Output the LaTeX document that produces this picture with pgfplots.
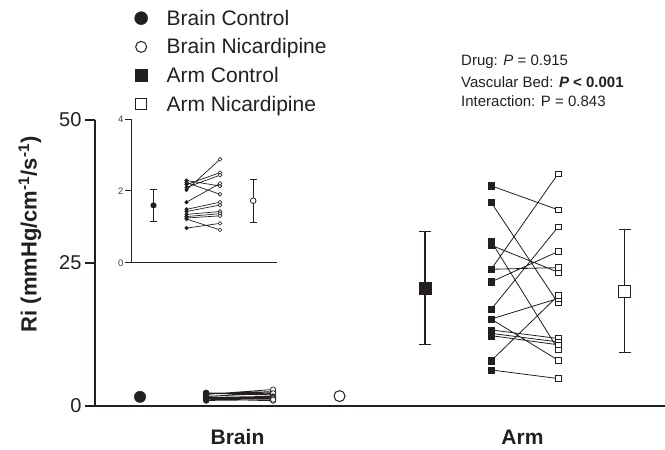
\documentclass[border=0pt]{standalone}
\usepackage{pgfplots}
\pgfplotsset{compat=1.18}
\usepackage{pgfplotstable}
\usepackage{fontspec}
\setmainfont{Liberation Sans}
\definecolor{ink}{RGB}{35,31,32}

\pgfplotstableread{
x y
0.39 2.29
0.625 2.14
nan nan
0.39 2.23
0.625 1.91
nan nan
0.39 2.18
0.625 2.51
nan nan
0.39 2.10
0.625 2.44
nan nan
0.39 2.03
0.625 2.88
nan nan
0.39 1.69
0.625 2.21
nan nan
0.39 1.49
0.625 1.69
nan nan
0.39 1.43
0.625 1.61
nan nan
0.39 1.35
0.625 1.43
nan nan
0.39 1.29
0.625 1.37
nan nan
0.39 1.25
0.625 1.31
nan nan
0.39 1.22
0.625 0.92
nan nan
0.39 0.97
0.625 1.10
}\brainpairs

\pgfplotstableread{
x y
1.39 38.5
1.625 34.3
nan nan
1.39 35.6
1.625 18.0
nan nan
1.39 28.8
1.625 9.9
nan nan
1.39 28.1
1.625 23.4
nan nan
1.39 23.9
1.625 40.6
nan nan
1.39 23.9
1.625 24.2
nan nan
1.39 21.7
1.625 27.0
nan nan
1.39 16.9
1.625 31.3
nan nan
1.39 15.2
1.625 18.8
nan nan
1.39 15.2
1.625 8.0
nan nan
1.39 13.3
1.625 11.8
nan nan
1.39 12.7
1.625 11.2
nan nan
1.39 12.3
1.625 10.7
nan nan
1.39 7.9
1.625 19.3
nan nan
1.39 6.3
1.625 4.8
}\armpairs

\begin{document}
\begin{tikzpicture}[x=1pt,y=1pt]
\useasboundingbox (0,0) rectangle (665,450);
\begin{axis}[
  at={(95pt,44pt)}, anchor=south west,
  scale only axis, width=570pt, height=286pt,
  xmin=0, xmax=2, ymin=0, ymax=50,
  axis lines=left,
  axis line style={-, line width=2pt, ink},
  clip=false,
  unbounded coords=jump,
  ytick={0,25,50},
  xtick={0.5,1.5}, xticklabels={Brain,Arm},
  /pgf/number format/assume math mode=true,
  yticklabel style={font=\fontsize{20}{24}\selectfont, text=ink},
  xticklabel style={font=\bfseries\fontsize{21}{25}\selectfont, text=ink, anchor=base, yshift=-29pt},
  tick align=outside,
  ytick style={line width=2pt, ink},
  xtick style={draw=none},
  major tick length=10pt,
  ylabel={Ri (mmHg/cm\textsuperscript{-1}/s\textsuperscript{-1})},
  ylabel style={font=\bfseries\fontsize{22}{26}\selectfont, at={(axis description cs:-0.114,0.60)}, anchor=center, text=ink},
  legend style={draw=none, fill=none, at={(axis description cs:0.064,1.40)}, anchor=north west,
    font=\fontsize{21}{25}\selectfont, text=ink, row sep=8pt,
    /tikz/every odd column/.append style={column sep=17pt}},
  legend cell align=left,
  legend image code/.code={\draw[#1] plot coordinates {(0pt,0pt)};},
]
\addlegendimage{only marks, mark=*, mark size=6.5pt, ink}
\addlegendentry{Brain Control}
\addlegendimage{only marks, mark=o, mark size=5.5pt, ink, line width=1pt}
\addlegendentry{Brain Nicardipine}
\addlegendimage{only marks, mark=square*, mark size=6pt, ink}
\addlegendentry{Arm Control}
\addlegendimage{only marks, mark=square, mark size=5.5pt, ink, line width=1pt}
\addlegendentry{Arm Nicardipine}

% paired lines
\addplot[forget plot, ink, line width=0.8pt] table {\brainpairs};
\addplot[forget plot, ink, line width=0.8pt] table {\armpairs};
% paired marks
\addplot[forget plot, only marks, mark=*, mark size=3pt, ink, restrict x to domain=0.3:0.5] table {\brainpairs};
\addplot[forget plot, only marks, mark=*, mark size=2.6pt, ink, mark options={fill=white, line width=0.7pt}, restrict x to domain=0.5:0.7] table {\brainpairs};
\addplot[forget plot, only marks, mark=square*, mark size=3.2pt, ink, restrict x to domain=1.3:1.5] table {\armpairs};
\addplot[forget plot, only marks, mark=square*, mark size=2.8pt, ink, mark options={fill=white, line width=0.8pt}, restrict x to domain=1.5:1.7] table {\armpairs};
% error bars of arm means
\addplot[forget plot, only marks, mark=none, error bars/.cd, y dir=both, y explicit,
  error bar style={ink, line width=1.2pt}, error mark options={rotate=90, ink, mark size=6pt, line width=1.2pt}]
  coordinates {(1.158,20.6) +- (0,9.85) (1.858,20.1) +- (0,10.7)};
% means
\addplot[forget plot, only marks, mark=*, mark size=5.7pt, ink] coordinates {(0.158,1.60)};
\addplot[forget plot, only marks, mark=*, mark size=5.5pt, ink, mark options={fill=white, line width=1pt}] coordinates {(0.858,1.73)};
\addplot[forget plot, only marks, mark=square*, mark size=6pt, ink] coordinates {(1.158,20.6)};
\addplot[forget plot, only marks, mark=square*, mark size=6pt, ink, mark options={fill=white, line width=1pt}] coordinates {(1.858,20.1)};
\end{axis}

% inset
\begin{axis}[
  at={(131pt,187pt)}, anchor=south west,
  scale only axis, width=146pt, height=144pt,
  xmin=0, xmax=1.025, ymin=0, ymax=4,
  axis lines=left,
  axis line style={-, line width=1pt, ink},
  clip=false,
  unbounded coords=jump,
  ytick={0,2,4}, xtick=\empty,
  tick align=outside, major tick length=6pt,
  ytick style={line width=1pt, ink},
  /pgf/number format/assume math mode=true,
  yticklabel style={font=\fontsize{9.5}{11}\selectfont, text=ink!85, inner sep=1.5pt},
]
\addplot[ink, line width=0.7pt] table {\brainpairs};
\addplot[only marks, mark=*, mark size=1.9pt, ink, restrict x to domain=0.3:0.5] table {\brainpairs};
\addplot[only marks, mark=*, mark size=1.9pt, ink, mark options={fill=white, line width=0.6pt}, restrict x to domain=0.5:0.7] table {\brainpairs};
\addplot[only marks, mark=none, error bars/.cd, y dir=both, y explicit,
  error bar style={ink, line width=0.9pt}, error mark options={rotate=90, ink, mark size=3.5pt, line width=0.9pt}]
  coordinates {(0.158,1.60) +- (0,0.44) (0.858,1.73) +- (0,0.60)};
\addplot[only marks, mark=*, mark size=2.8pt, ink] coordinates {(0.158,1.60)};
\addplot[only marks, mark=*, mark size=2.8pt, ink, mark options={fill=white, line width=0.8pt}] coordinates {(0.858,1.73)};
\end{axis}

\begin{scope}[every node/.style={anchor=west, inner sep=0pt, font=\fontsize{15}{18}\selectfont, text=ink}]
\node at (461,388) {Drug: \textit{P} = 0.915};
\node at (461,368) {Vascular Bed: \textbf{\textit{P} < 0.001}};
\node at (461,349) {Interaction: P = 0.843};
\end{scope}
\end{tikzpicture}
\end{document}
